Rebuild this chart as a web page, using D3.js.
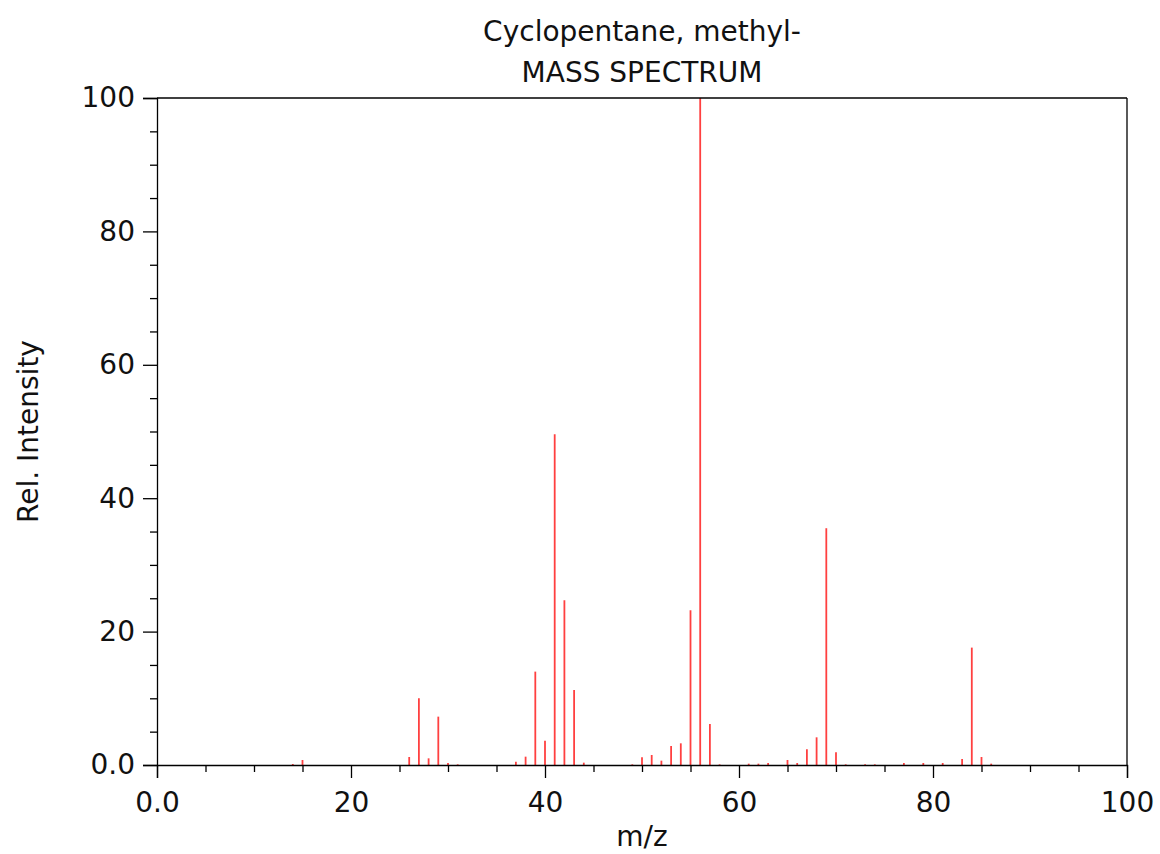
<!DOCTYPE html>
<html>
<head>
<meta charset="utf-8">
<script src="https://cdn.jsdelivr.net/npm/d3@7"></script>
<style>
  html, body { margin: 0; padding: 0; background: #fff; }
  svg { display: block; font-family: "DejaVu Sans", sans-serif; }
</style>
</head>
<body>
<svg id="chart" width="1160" height="854"></svg>
<script>
const titleLines = ["Cyclopentane, methyl-", "MASS SPECTRUM"];
const xLabel = "m/z";
const yLabel = "Rel. Intensity";
const mz = [14, 15, 26, 27, 28, 29, 30, 31, 37, 38, 39, 40, 41, 42, 43, 44, 49, 50, 51, 52, 53, 54, 55, 56, 57, 58, 61, 62, 63, 65, 66, 67, 68, 69, 70, 71, 73, 74, 77, 79, 81, 83, 84, 85, 86];
const intensity = [0.15, 0.75, 1.2, 10.0, 1.0, 7.25, 0.3, 0.1, 0.5, 1.25, 14.0, 3.65, 49.6, 24.7, 11.25, 0.35, 0.1, 1.15, 1.5, 0.65, 2.85, 3.25, 23.2, 100, 6.15, 0.1, 0.2, 0.2, 0.3, 0.75, 0.3, 2.35, 4.15, 35.5, 1.9, 0.1, 0.1, 0.1, 0.3, 0.3, 0.3, 0.9, 17.6, 1.2, 0.2];
const xTicks = [0, 20, 40, 60, 80, 100];
const xTickLabels = ["0.0", "20", "40", "60", "80", "100"];
const yTicks = [0, 20, 40, 60, 80, 100];
const yTickLabels = ["0.0", "20", "40", "60", "80", "100"];

(function () {
const svg = d3.select("#chart");
const mLeft = 157, mRight = 1127, mTop = 98, mBottom = 765;
const fs = 28;
const x = d3.scaleLinear().domain([0, 100]).range([mLeft, mRight]);
const y = d3.scaleLinear().domain([0, 100]).range([mBottom, mTop]);

// peaks
svg.append("g").selectAll("line").data(mz).join("line")
  .attr("x1", d => x(d)).attr("x2", d => x(d))
  .attr("y1", y(0)).attr("y2", (d, i) => y(intensity[i]))
  .attr("stroke", "#ff0000").attr("stroke-opacity", 0.75).attr("stroke-width", 1.8);

// frame top and right
svg.append("line").attr("x1", mLeft).attr("x2", mRight).attr("y1", mTop).attr("y2", mTop)
  .attr("stroke", "#000").attr("stroke-width", 1.3);
svg.append("line").attr("x1", mRight).attr("x2", mRight).attr("y1", mTop).attr("y2", mBottom)
  .attr("stroke", "#000").attr("stroke-width", 1.3);

// x axis
const xMinor = d3.range(0, 101, 5).filter(v => v % 20 !== 0);
svg.append("g").attr("transform", `translate(0,${mBottom})`)
  .call(d3.axisBottom(x).tickValues(xTicks).tickFormat((d, i) => xTickLabels[i]).tickSize(13).tickPadding(14));
svg.append("g").attr("transform", `translate(0,${mBottom})`)
  .call(d3.axisBottom(x).tickValues(xMinor).tickFormat("").tickSize(7))
  .select(".domain").remove();

// y axis
const yMinor = d3.range(0, 101, 5).filter(v => v % 20 !== 0);
svg.append("g").attr("transform", `translate(${mLeft},0)`)
  .call(d3.axisLeft(y).tickValues(yTicks).tickFormat((d, i) => yTickLabels[i]).tickSize(14).tickPadding(8));
svg.append("g").attr("transform", `translate(${mLeft},0)`)
  .call(d3.axisLeft(y).tickValues(yMinor).tickFormat("").tickSize(7))
  .select(".domain").remove();

svg.selectAll(".domain").attr("stroke", "#000").attr("stroke-width", 1.3);
svg.selectAll(".tick line").attr("stroke", "#000").attr("stroke-width", 1.3);
svg.selectAll(".tick text").attr("font-size", fs).attr("fill", "#111").attr("font-family", "DejaVu Sans, sans-serif");

// titles
svg.append("g").selectAll("text").data(titleLines).join("text")
  .attr("x", x(50)).attr("y", (d, i) => 41 + i * 41)
  .attr("text-anchor", "middle").attr("font-size", fs).attr("fill", "#111")
  .text(d => d);

svg.append("text").attr("x", x(50)).attr("y", 846)
  .attr("text-anchor", "middle").attr("font-size", fs).attr("fill", "#111").text(xLabel);

svg.append("text").attr("transform", `translate(38,${(mTop + mBottom) / 2}) rotate(-90)`)
  .attr("text-anchor", "middle").attr("font-size", fs).attr("fill", "#111").text(yLabel);
})();
</script>
</body>
</html>
